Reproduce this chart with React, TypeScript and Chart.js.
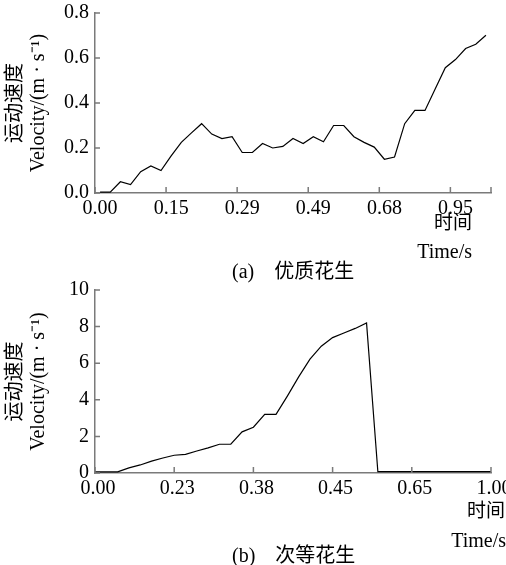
import { useEffect, useRef } from 'react';
import { Chart, registerables } from 'chart.js';

Chart.register(...registerables);

// ---------- data ----------
const tickLabelsA = ['0.00', '0.15', '0.29', '0.49', '0.68', '0.95'];
const velocityA = [
  0.004, 0.004, 0.05, 0.037, 0.095, 0.12, 0.1, 0.165, 0.225, 0.267,
  0.308, 0.262, 0.242, 0.25, 0.18, 0.18, 0.22, 0.2, 0.207, 0.242,
  0.22, 0.25, 0.228, 0.3, 0.3, 0.25, 0.225, 0.204, 0.15, 0.16,
  0.308, 0.367, 0.367, 0.462, 0.557, 0.593, 0.642, 0.661, 0.701,
];
const yTicksA = { min: 0, max: 0.8, step: 0.2 };

const tickLabelsB = ['0.00', '0.23', '0.38', '0.45', '0.65', '1.00'];
const velocityB = [
  0.06, 0.06, 0.06, 0.28, 0.44, 0.65, 0.82, 0.97, 1.02, 1.2,
  1.37, 1.57, 1.57, 2.25, 2.5, 3.2, 3.2, 4.2, 5.25, 6.22,
  6.93, 7.4, 7.65, 7.9, 8.2, 0.07, 0.07, 0.07, 0.07, 0.07,
  0.07, 0.07, 0.07, 0.07, 0.07, 0.07,
];
const yTicksB = { min: 0, max: 10, step: 2 };

const LABEL_STEP = 7;
const yTitleLines = ['运动速度', 'Velocity/(m · s⁻¹)'];

// ---------- style ----------
const FONT = "'Liberation Serif', 'Noto Sans CJK SC', serif";
const AXIS_COLOR = '#7a7a7a';
const W = 506;

function buildLabels(values: number[], ticks: string[]) {
  return values.map((_, i) => (i % LABEL_STEP === 0 ? ticks[i / LABEL_STEP] ?? '' : ''));
}

function innerTicksPlugin(offset: boolean) {
  return {
    id: 'innerTicks',
    afterDraw(chart: any) {
      const { ctx, chartArea, scales } = chart;
      const xs = scales.x;
      const ys = scales.y;
      const n = xs.getLabels().length;
      const half = offset ? (xs.getPixelForValue(1) - xs.getPixelForValue(0)) / 2 : 0;
      ctx.save();
      ctx.strokeStyle = AXIS_COLOR;
      ctx.lineWidth = 1.5;
      ctx.beginPath();
      for (let i = 0; i < n; i += LABEL_STEP) {
        const px = xs.getPixelForValue(i) - half;
        ctx.moveTo(px, chartArea.bottom);
        ctx.lineTo(px, chartArea.bottom - 6);
      }
      ctx.moveTo(chartArea.right, chartArea.bottom);
      ctx.lineTo(chartArea.right, chartArea.bottom - 6);
      ys.ticks.forEach((t: any) => {
        const py = ys.getPixelForValue(t.value);
        ctx.moveTo(chartArea.left, py);
        ctx.lineTo(chartArea.left + 5, py);
      });
      ctx.stroke();
      ctx.restore();
    },
  };
}

function makeConfig(
  values: number[],
  ticks: string[],
  yt: { min: number; max: number; step: number },
  decimals: number,
  offset: boolean,
  height: number,
  top: number,
  bottom: number,
  labelOffset: number,
) {
  return {
    type: 'line' as const,
    data: {
      labels: buildLabels(values, ticks),
      datasets: [
        {
          data: values,
          borderColor: '#000',
          borderWidth: 1.2,
          pointRadius: 0,
          tension: 0,
          fill: false,
        },
      ],
    },
    options: {
      responsive: false,
      animation: false as const,
      layout: { padding: { left: 0, right: W - 491, top, bottom: 0 }, autoPadding: false },
      plugins: { legend: { display: false }, tooltip: { enabled: false } },
      scales: {
        x: {
          type: 'category' as const,
          offset,
          grid: { display: false, drawTicks: false, offset },
          border: { display: true, color: AXIS_COLOR, width: 1.5 },
          ticks: {
            autoSkip: false,
            maxRotation: 0,
            minRotation: 0,
            padding: 4,
            labelOffset,
            color: '#000',
            font: { family: FONT, size: 20 },
          },
          afterFit: (s: any) => {
            s.height = height - bottom;
            s.paddingLeft = 0;
            s.paddingRight = 0;
          },
        },
        y: {
          min: yt.min,
          max: yt.max,
          grid: { display: false, drawTicks: false },
          border: { display: true, color: AXIS_COLOR, width: 1.5 },
          ticks: {
            stepSize: yt.step,
            padding: 6,
            color: '#000',
            font: { family: FONT, size: 20 },
            callback: (v: any) => Number(v).toFixed(decimals),
          },
          title: {
            display: true,
            text: yTitleLines,
            color: '#000',
            font: { family: FONT, size: 20, lineHeight: 1.12 },
            padding: { top: 5, bottom: 0 },
          },
          afterFit: (s: any) => {
            s.width = 95;
            s.paddingTop = 0;
            s.paddingBottom = 0;
          },
        },
      },
    },
    plugins: [innerTicksPlugin(offset)],
  };
}

const textBase: any = {
  position: 'absolute',
  fontFamily: FONT,
  color: '#000',
  whiteSpace: 'nowrap',
  lineHeight: '24px',
};

export default function App() {
  const refA = useRef<HTMLCanvasElement>(null);
  const refB = useRef<HTMLCanvasElement>(null);

  useEffect(() => {
    const a = new Chart(refA.current!, makeConfig(velocityA, tickLabelsA, yTicksA, 1, true, 280, 13, 193, 0) as any);
    const b = new Chart(refB.current!, makeConfig(velocityB, tickLabelsB, yTicksB, 0, false, 285, 10, 193, 3) as any);
    return () => {
      a.destroy();
      b.destroy();
    };
  }, []);

  return (
    <div style={{ position: 'absolute', left: 0, top: 0, width: W, height: 565, background: '#fff', overflow: 'hidden' }}>
      <canvas ref={refA} width={W} height={280} style={{ position: 'absolute', left: 0, top: 0, width: W, height: 280 }} />
      <canvas ref={refB} width={W} height={285} style={{ position: 'absolute', left: 0, top: 280, width: W, height: 285 }} />

      <div style={{ ...textBase, right: 34, top: 211, fontSize: 19 }}>时间</div>
      <div style={{ ...textBase, right: 34, top: 239, fontSize: 20 }}>Time/s</div>
      <div style={{ ...textBase, left: 232, top: 259, fontSize: 20 }}>(a)　优质花生</div>

      <div style={{ ...textBase, right: 1, top: 499, fontSize: 19 }}>时间</div>
      <div style={{ ...textBase, right: 0, top: 528, fontSize: 20 }}>Time/s</div>
      <div style={{ ...textBase, left: 232, top: 543, fontSize: 20 }}>(b)　次等花生</div>
    </div>
  );
}
